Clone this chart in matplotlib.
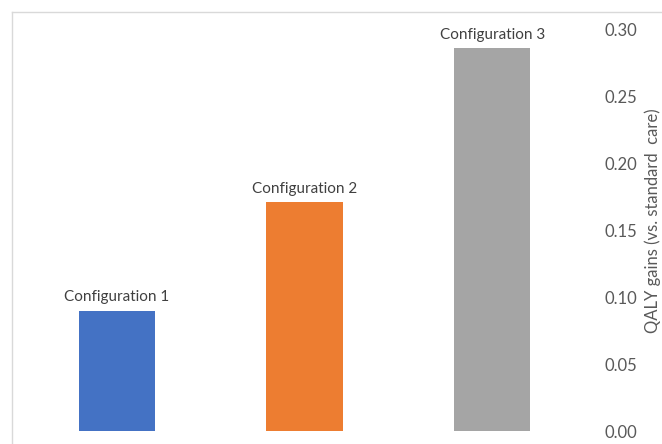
import matplotlib
matplotlib.use("Agg")
import matplotlib.pyplot as plt
from matplotlib.lines import Line2D

categories = ["Configuration 1", "Configuration 2", "Configuration 3"]
values = [0.090, 0.171, 0.2865]
colors = ["#4472C4", "#ED7D31", "#A5A5A5"]
yticks = [0.00, 0.05, 0.10, 0.15, 0.20, 0.25, 0.30]
ylabel = "QALY gains (vs. standard  care)"

plt.rcParams['font.family'] = ['Lato', 'DejaVu Sans']

W, H = 662, 444
fig = plt.figure(figsize=(W / 100, H / 100), dpi=100)
ax = fig.add_axes([23 / W, (H - 431) / H, (586 - 23) / W, 401 / H])

x = list(range(len(categories)))
ax.bar(x, values, width=0.405, color=colors, zorder=2)
for xi, v, c in zip(x, values, categories):
    ax.annotate(c, (xi, v), xytext=(0, 4.5), textcoords="offset points",
                ha="center", va="bottom", fontsize=11, color="#404040")

ax.set_xlim(-0.5, 2.5)
ax.set_ylim(0, 0.30)
ax.set_xticks([])
ax.yaxis.tick_right()
ax.set_yticks(yticks)
ax.set_yticklabels([f"{t:.2f}" for t in yticks])
ax.tick_params(axis="y", length=0, pad=13.5, labelsize=12, labelcolor="#595959")
ax.yaxis.set_label_position("right")
ax.set_ylabel(ylabel, fontsize=12, color="#595959", rotation=90,
              ha="center", va="center")
ax.yaxis.set_label_coords((652.5 - 23) / (586 - 23), (431 - 221) / 401)
for s in ax.spines.values():
    s.set_visible(False)

fig.add_artist(Line2D([12 / W, 12 / W], [0, 1 - 12 / H], color="#D9D9D9", lw=1))
fig.add_artist(Line2D([12 / W, 1], [1 - 12 / H, 1 - 12 / H], color="#D9D9D9", lw=1))

fig.savefig("out.png", dpi=100)
